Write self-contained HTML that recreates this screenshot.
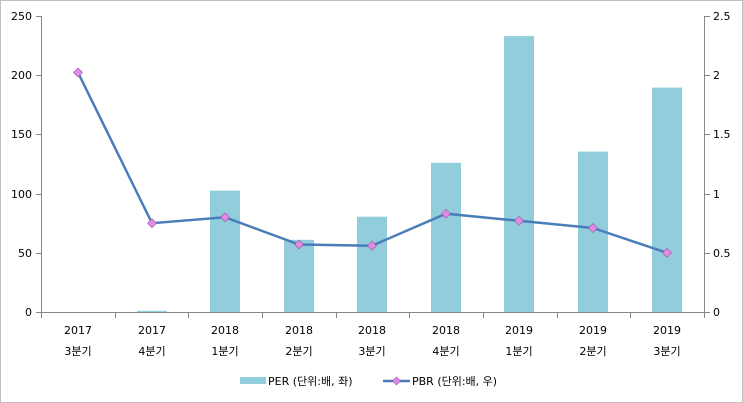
<!DOCTYPE html>
<html><head><meta charset="utf-8"><style>
body{margin:0;background:#fff}
svg{display:block;font-family:"DejaVu Sans","Noto Sans CJK KR",sans-serif}
</style></head><body>
<svg width="743" height="403" viewBox="0 0 743 403" xmlns="http://www.w3.org/2000/svg">
<rect x="0.5" y="0.5" width="742" height="402" fill="#fff" stroke="#bfbfbf"/>
<g fill="#92cddc">
<rect x="137" y="310.8" width="30" height="1.2"/>
<rect x="210" y="190.6" width="30" height="121.4"/>
<rect x="284" y="239.8" width="30" height="72.2"/>
<rect x="357" y="216.7" width="30" height="95.3"/>
<rect x="431" y="162.8" width="30" height="149.2"/>
<rect x="504" y="36.1" width="30" height="275.9"/>
<rect x="578" y="151.6" width="30" height="160.4"/>
<rect x="652" y="87.6" width="30" height="224.4"/>
</g>
<g stroke="#868686" stroke-width="1" fill="none">
<line x1="41.5" y1="16" x2="41.5" y2="312"/>
<line x1="704.5" y1="16" x2="704.5" y2="312"/>
<line x1="41" y1="312.5" x2="705" y2="312.5"/>
<path d="M36 16.5h6M36 75.5h6M36 134.5h6M36 194.5h6M36 253.5h6M36 312.5h6"/>
<path d="M704 16.5h6M704 75.5h6M704 134.5h6M704 194.5h6M704 253.5h6M704 312.5h6"/>
<path d="M41.5 312v6M115.5 312v6M188.5 312v6M262.5 312v6M336.5 312v6M409.5 312v6M483.5 312v6M557.5 312v6M630.5 312v6M704.5 312v6"/>
</g>
<g font-size="11" fill="#000" text-anchor="end">
<text x="32" y="20">250</text><text x="32" y="79">200</text><text x="32" y="138">150</text>
<text x="32" y="198">100</text><text x="32" y="257">50</text><text x="32" y="316">0</text>
</g>
<g font-size="11" fill="#000" text-anchor="start">
<text x="713" y="20">2.5</text><text x="713" y="79">2</text><text x="713" y="138">1.5</text>
<text x="713" y="198">1</text><text x="713" y="257">0.5</text><text x="713" y="316">0</text>
</g>
<g font-size="11" fill="#000" text-anchor="middle">
<text x="78" y="334">2017</text><text x="78" y="355">3분기</text>
<text x="152" y="334">2017</text><text x="152" y="355">4분기</text>
<text x="225" y="334">2018</text><text x="225" y="355">1분기</text>
<text x="299" y="334">2018</text><text x="299" y="355">2분기</text>
<text x="372" y="334">2018</text><text x="372" y="355">3분기</text>
<text x="446" y="334">2018</text><text x="446" y="355">4분기</text>
<text x="519" y="334">2019</text><text x="519" y="355">1분기</text>
<text x="593" y="334">2019</text><text x="593" y="355">2분기</text>
<text x="667" y="334">2019</text><text x="667" y="355">3분기</text>
</g>
<polyline fill="none" stroke="#4a7ebb" stroke-width="2.5" points="78,72.5 152,223.2 225,217.3 299,244.5 372,245.7 446,213.7 519,220.8 593,228 667,252.8"/>
<g fill="#e08ce0" stroke="#9c4fb0" stroke-width="0.6">
<path d="M78 68l4.5 4.5-4.5 4.5-4.5-4.5z"/>
<path d="M152 218.7l4.5 4.5-4.5 4.5-4.5-4.5z"/>
<path d="M225 212.8l4.5 4.5-4.5 4.5-4.5-4.5z"/>
<path d="M299 240l4.5 4.5-4.5 4.5-4.5-4.5z"/>
<path d="M372 241.2l4.5 4.5-4.5 4.5-4.5-4.5z"/>
<path d="M446 209.2l4.5 4.5-4.5 4.5-4.5-4.5z"/>
<path d="M519 216.3l4.5 4.5-4.5 4.5-4.5-4.5z"/>
<path d="M593 223.5l4.5 4.5-4.5 4.5-4.5-4.5z"/>
<path d="M667 248.3l4.5 4.5-4.5 4.5-4.5-4.5z"/>
</g>
<rect x="240" y="377" width="26" height="7" fill="#92cddc"/>
<text x="268" y="385" font-size="11" fill="#000">PER (단위:배, 좌)</text>
<line x1="383" y1="381" x2="410" y2="381" stroke="#4a7ebb" stroke-width="2.5"/>
<path d="M396.5 377l4 4-4 4-4-4z" fill="#e08ce0" stroke="#9c4fb0" stroke-width="0.6"/>
<text x="412" y="385" font-size="11" fill="#000">PBR (단위:배, 우)</text>
</svg>
</body></html>
